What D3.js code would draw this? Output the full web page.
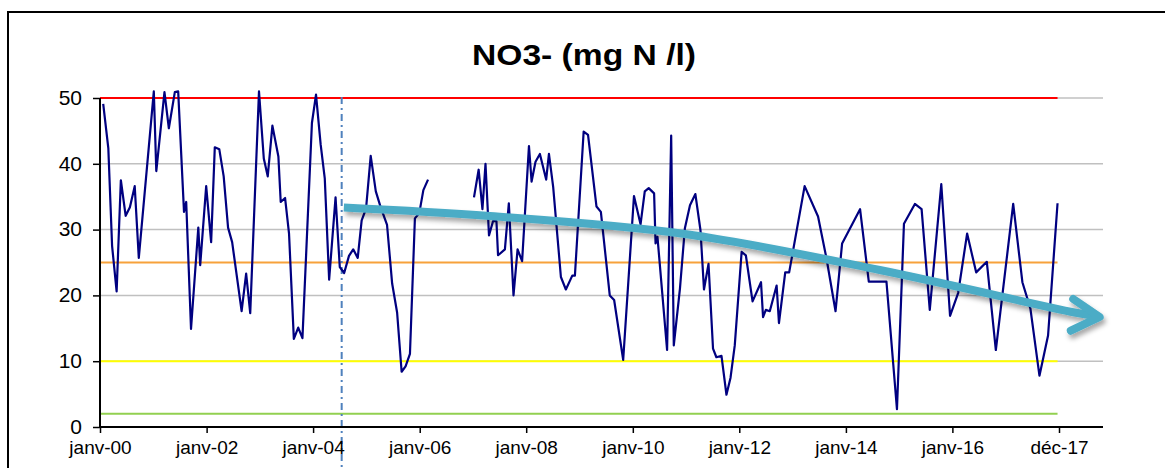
<!DOCTYPE html>
<html><head><meta charset="utf-8">
<script src="https://cdn.jsdelivr.net/npm/d3@7"></script>
<style>body{margin:0;background:#fff;}svg{display:block;font-family:"Liberation Sans",Arial,sans-serif;}</style>
</head><body>
<script>
// ---- data ----
const title = "NO3- (mg N /l)";
const dates = ["2000-01-23","2000-02-27","2000-03-24","2000-04-24","2000-05-23","2000-06-25","2000-07-24","2000-08-26","2000-09-23","2001-01-04",
"2001-01-21","2001-03-18","2001-04-17","2001-05-28","2001-06-20","2001-07-30","2001-08-14","2001-09-16","2001-11-05","2001-11-18",
"2001-12-29","2002-02-01","2002-02-26","2002-03-29","2002-04-28","2002-05-28","2002-06-25","2002-08-29","2002-09-29","2002-10-27",
"2002-12-26","2003-01-28","2003-02-24","2003-03-28","2003-05-08","2003-05-24","2003-06-23","2003-07-20","2003-08-22","2003-09-21",
"2003-10-20","2003-12-24","2004-01-21","2004-02-22","2004-03-21","2004-04-20","2004-06-03","2004-07-02","2004-08-01","2004-09-03",
"2004-10-02","2004-11-02","2004-11-29","2004-12-29","2005-01-30","2005-03-06","2005-04-07","2005-05-22","2005-06-26","2005-07-30",
"2005-08-30","2005-09-26","2005-10-26","2005-11-29","2005-12-29","2006-01-26","2006-02-27","2006-07-01",
"2007-01-08","2007-02-09","2007-03-07","2007-03-28","2007-04-21","2007-05-19","2007-06-11","2007-06-22","2007-08-08","2007-09-04",
"2007-10-06","2007-11-03","2007-12-04","2008-01-20","2008-02-07","2008-03-05","2008-04-04","2008-05-17","2008-06-05","2008-07-04",
"2008-08-26","2008-09-29","2008-11-12","2008-11-30","2009-01-29","2009-02-28","2009-04-27","2009-05-27","2009-07-27","2009-08-26",
"2009-10-27","2010-01-09","2010-02-23","2010-03-24","2010-04-20","2010-05-27","2010-06-06","2010-06-19","2010-08-24","2010-09-21",
"2010-10-09","2010-11-20","2010-12-24","2011-01-28","2011-03-06","2011-04-10","2011-05-04","2011-06-04","2011-07-05","2011-07-28",
"2011-09-01","2011-10-05","2011-11-02","2011-12-01","2012-01-17","2012-02-15","2012-04-01","2012-05-29","2012-06-12","2012-07-01",
"2012-07-28","2012-09-13","2012-09-29","2012-11-11","2012-12-08","2013-03-24","2013-06-24","2013-08-21","2013-10-22","2013-12-06",
"2014-04-08","2014-06-07","2014-10-06","2014-12-17","2015-02-03","2015-04-19","2015-06-04","2015-07-30","2015-10-17","2015-12-16",
"2016-02-10","2016-04-11","2016-06-12","2016-08-24","2016-10-25","2017-02-21","2017-04-25","2017-06-19","2017-08-20","2017-10-18",
"2017-12-22"];
const values = [49.1,42.4,27.5,20.6,37.5,32.1,33.4,36.6,25.7,51,
38.9,50.9,45.4,50.9,51,32.7,34.2,14.9,30.3,24.6,
36.6,28.1,42.5,42.2,38.1,30.3,28.1,17.6,23.3,17.3,
51,40.8,38.1,45.8,41.1,34.2,34.8,29.4,13.4,15.1,
13.5,46.2,50.5,42.9,37.8,22.4,34.9,24.3,23.4,26,
27,25.7,31.4,33.2,41.2,35.8,33.5,30.7,21.8,17.4,
8.4,9.2,11.1,31.7,32.5,36,37.6,null,
34.9,39.1,33.1,40,29.1,31.3,31.3,26.1,27,34,
20,27,25.2,42.7,37.3,40.3,41.5,37.6,41.5,36.5,
22.8,20.9,23,23,44.9,44.4,33.5,32.7,20,19.3,
10.2,35.1,30.8,35.8,36.3,35.5,27.9,28.9,11.7,44.3,
12.4,21,30.2,33.7,35.4,29.9,20.9,24.8,11.9,10.6,
10.8,4.9,7.5,12.4,26.6,26.1,19.1,22,16.7,17.8,
17.6,21.5,15.8,23.5,23.5,36.6,32,25.6,17.6,27.9,
33.1,22.1,22.1,2.7,30.9,33.9,33.1,17.8,36.9,16.9,
20.4,29.4,23.5,25.1,11.7,33.9,22,18,7.8,13.9,
34];
const yTicks = [0,10,20,30,40,50];
const tickDates = ["2000-01-01","2002-01-01","2004-01-01","2006-01-01","2008-01-01","2010-01-01","2012-01-01","2014-01-01","2016-01-01","2018-01-01"];
const tickLabels = ["janv-00","janv-02","janv-04","janv-06","janv-08","janv-10","janv-12","janv-14","janv-16","déc-17"];
const thresholdValues = [50,25,10,2];
const thresholdColors = ["#ff0000","#f7a23b","#ffff00","#92d050"];
const markerDate = "2004-07-15";
const trendDates = ["2004-07-30","2007-04-26","2010-12-24","2014-08-21","2018-04-18","2018-10-07"];
const trendValues = [33.36,32.07,29.33,23.86,17.4,16.72];

// ---- chart ----
const W = 1165, H = 468;
const parse = d3.timeParse("%Y-%m-%d");
const svg = d3.select("body").append("svg").attr("width", W).attr("height", H);

const x = d3.scaleTime().domain([parse("2000-01-01"), parse("2018-01-01")]).range([100, 1059]);
const y = d3.scaleLinear().domain([0, 50]).range([427, 98]);
const plotRight = 1103;

// frame
svg.append("rect").attr("x", 8).attr("y", 12).attr("width", W).attr("height", H)
  .attr("fill", "none").attr("stroke", "#000").attr("stroke-width", 2);

// title
svg.append("text").attr("x", 584).attr("y", 65).attr("text-anchor", "middle")
  .attr("font-size", 30).attr("font-weight", "bold")
  .attr("textLength", 224).attr("lengthAdjust", "spacingAndGlyphs").text(title);

// gridlines
svg.append("g").selectAll("line").data(yTicks.filter(d => d > 0)).join("line")
  .attr("x1", 100).attr("x2", plotRight).attr("y1", d => y(d)).attr("y2", d => y(d))
  .attr("stroke", "#c0c0c0").attr("stroke-width", 1.5);

// thresholds
const xEnd = x(parse("2017-12-22"));
svg.append("g").selectAll("line").data(thresholdValues).join("line")
  .attr("x1", 100).attr("x2", xEnd).attr("y1", d => y(d)).attr("y2", d => y(d))
  .attr("stroke", (d, i) => thresholdColors[i]).attr("stroke-width", 2);

// vertical marker
svg.append("line").attr("x1", x(parse(markerDate))).attr("x2", x(parse(markerDate)))
  .attr("y1", 97).attr("y2", H).attr("stroke", "#4f81bd").attr("stroke-width", 2)
  .attr("stroke-dasharray", "7,4,2,4");

// data line
const pts = dates.map((d, i) => ({ t: parse(d), v: values[i] }));
svg.append("path").datum(pts)
  .attr("d", d3.line().defined(d => d.v != null).x(d => x(d.t)).y(d => y(d.v)))
  .attr("fill", "none").attr("stroke", "#000080").attr("stroke-width", 2.2).attr("stroke-linejoin", "round");

// y axis
const yAxis = svg.append("g").attr("transform", "translate(100,0)")
  .call(d3.axisLeft(y).tickValues(yTicks).tickSize(7).tickPadding(11));
yAxis.select(".domain").attr("stroke-width", 2).attr("d", "M0,98V427");
yAxis.selectAll(".tick line").attr("stroke-width", 1.5);
yAxis.selectAll("text").attr("font-size", 21).attr("fill", "#000").attr("font-family", "Liberation Sans, Arial").attr("dy", "0.3em");

// x axis
const xAxis = svg.append("g").attr("transform", "translate(0,427)")
  .call(d3.axisBottom(x).tickValues(tickDates.map(parse)).tickFormat((d, i) => tickLabels[i]).tickSize(6).tickPadding(8));
xAxis.select(".domain").attr("stroke-width", 2).attr("d", `M100,0H${plotRight}`);
xAxis.selectAll(".tick line").attr("stroke-width", 1.5);
xAxis.selectAll("text").attr("font-size", 19).attr("fill", "#000").attr("font-family", "Liberation Sans, Arial");

// trend arrow with shadow
const defs = svg.append("defs");
const f = defs.append("filter").attr("id", "sh").attr("x", "-10%").attr("y", "-50%").attr("width", "120%").attr("height", "200%");
f.append("feDropShadow").attr("dx", 2).attr("dy", 4).attr("stdDeviation", 2.5).attr("flood-color", "#000").attr("flood-opacity", 0.35);
const tp = trendDates.map((d, i) => [x(parse(d)), y(trendValues[i])]);
const g = svg.append("g").attr("filter", "url(#sh)");
g.append("path").attr("d", d3.line().curve(d3.curveCatmullRom)(tp.slice(0, tp.length - 1).concat([[tp[tp.length-1][0]-5, tp[tp.length-1][1]-1]])))
  .attr("fill", "none").attr("stroke", "#4bacc6").attr("stroke-width", 8);
const tip = tp[tp.length - 1], prev = tp[tp.length - 2];
const ang = Math.atan2(tip[1] - prev[1], tip[0] - prev[0]);
const L = 32, a1 = ang + Math.PI - 0.62, a2 = ang + Math.PI + 0.42;
g.append("path").attr("d", `M${tip[0] + L * Math.cos(a1)},${tip[1] + L * Math.sin(a1)}L${tip[0]},${tip[1]}L${tip[0] + L * Math.cos(a2)},${tip[1] + L * Math.sin(a2)}`)
  .attr("fill", "none").attr("stroke", "#4bacc6").attr("stroke-width", 8).attr("stroke-linecap", "round").attr("stroke-linejoin", "round");
</script>
</body></html>
